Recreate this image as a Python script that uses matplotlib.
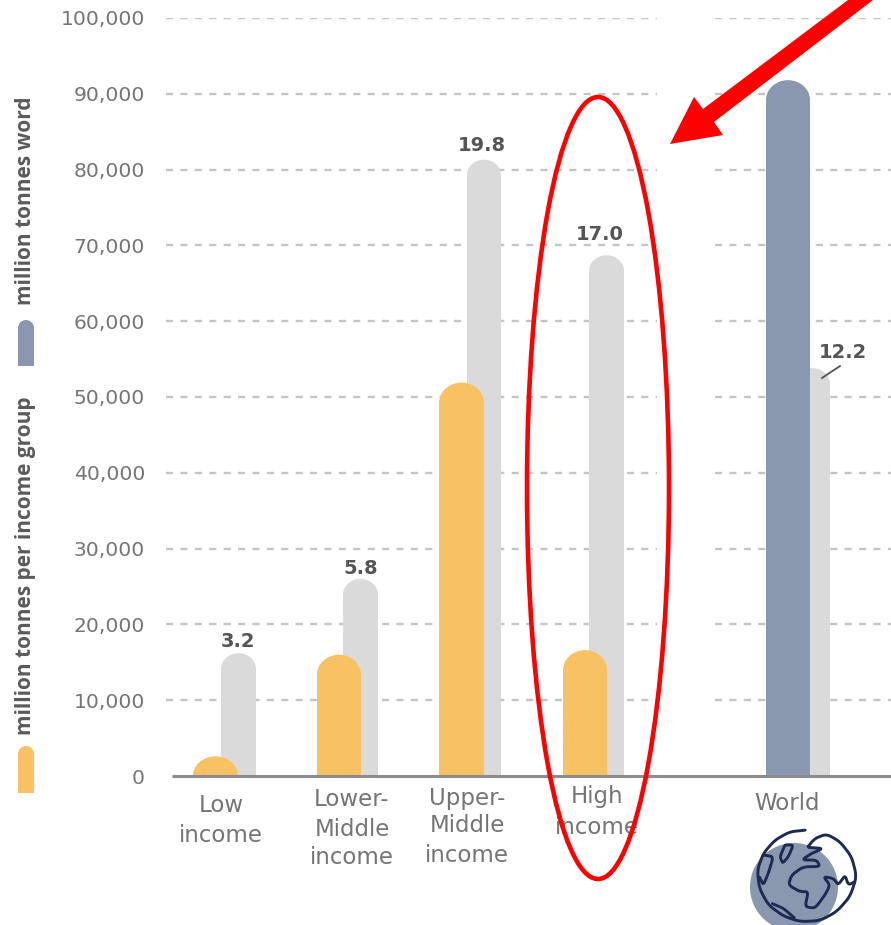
import matplotlib
matplotlib.use("Agg")
import matplotlib.pyplot as plt
import numpy as np
from matplotlib.path import Path
from matplotlib.patches import PathPatch, Ellipse, Polygon, Circle

# --- data ---
groups = ["Low\nincome", "Lower-\nMiddle\nincome", "Upper-\nMiddle\nincome", "High\nincome"]
group_million_tonnes = [2600, 16000, 51900, 16600]
per_capita_bars = [16200, 26000, 81300, 68700]
per_capita_labels = ["3.2", "5.8", "19.8", "17.0"]
world_label = "World"
world_million_tonnes = [91800]
world_bar = [53800]
world_value_label = "12.2"
y_ticks = [0, 10000, 20000, 30000, 40000, 50000, 60000, 70000, 80000, 90000, 100000]
legend_labels = ["million tonnes per income group", "million tonnes word"]

# --- style ---
ORANGE, GREY, BLUE = "#F8C264", "#DADADA", "#8A98AF"
TXT = "#757575"
W, H = 891, 925
plt.rcParams["font.family"] = ["DejaVu Sans"]
fig = plt.figure(figsize=(W / 100, H / 100), dpi=100, facecolor="white")
Y0, Y1 = 776, 18
ax = fig.add_axes([0, 1 - Y0 / H, 1, (Y0 - Y1) / H])
ax.set_xlim(0, W)
ax.set_ylim(0, 100000)
ax.axis("off")
px = 100000 / (Y0 - Y1)   # data units per pixel


def rbar(x0, x1, top, color, z):
    """Bar from 0 to top, with a round cap."""
    rx = (x1 - x0) / 2
    ry = min(rx * px * 0.9, top)
    k = 0.5523
    xm = (x0 + x1) / 2
    verts = [(x0, 0), (x0, top - ry),
             (x0, top - ry + k * ry), (xm - k * rx, top), (xm, top),
             (xm + k * rx, top), (x1, top - ry + k * ry), (x1, top - ry),
             (x1, 0), (x0, 0)]
    codes = [Path.MOVETO, Path.LINETO, Path.CURVE4, Path.CURVE4, Path.CURVE4,
             Path.CURVE4, Path.CURVE4, Path.CURVE4, Path.LINETO, Path.CLOSEPOLY]
    ax.add_patch(PathPatch(Path(verts, codes), fc=color, ec="none", zorder=z, clip_on=False))


# gridlines
for t in y_ticks[1:]:
    for a, b in [(166, 657), (715, 891)]:
        ax.plot([a, b], [t, t], color="#C4C4C4", lw=1.7, dashes=(3.0, 3.1), zorder=1)
for t in y_ticks:
    ax.annotate(f"{t:,}", (145, t), xytext=(0, -2), textcoords="offset pixels",
                ha="right", va="center", fontsize=14.6, color=TXT, zorder=5)

# bars
o_x = [(193, 238), (317, 361), (439, 484), (563, 607)]
g_x = [(221, 256), (343, 378), (467, 501), (589, 624)]
lab_x = [238, 361, 482, 600]
lab_off = [2, 1, 5, 11]
for (a, b), v in zip(g_x, per_capita_bars):
    rbar(a, b, v, GREY, 2)
for (a, b), v in zip(o_x, group_million_tonnes):
    rbar(a, b, v, ORANGE, 3)
rbar(795, 830, world_bar[0], GREY, 2)
rbar(766, 810, world_million_tonnes[0], BLUE, 3)

for x, off, v, s in zip(lab_x, lab_off, per_capita_bars, per_capita_labels):
    ax.annotate(s, (x, v), xytext=(0, off), textcoords="offset pixels", ha="center", va="bottom",
                fontsize=14, fontweight="bold", color="#555555", zorder=6)

ax.plot([172, 891], [0, 0], color="#8C8C8C", lw=2.2, zorder=4, solid_capstyle="butt", clip_on=False)

# overlay in pixel coordinates
ov = fig.add_axes([0, 0, 1, 1], facecolor="none")
ov.set_xlim(0, W)
ov.set_ylim(H, 0)
ov.axis("off")

# category labels
lab_pos = [(221, [805, 836]), (352, [800, 829, 858]), (467, [798, 826, 855]), (597, [796, 827])]
for (x, ys), g in zip(lab_pos, groups):
    for y, line in zip(ys, g.split("\n")):
        ov.text(x, y, line, ha="center", va="center", fontsize=16.5, color=TXT, zorder=3)
ov.text(787, 804, world_label, ha="center", va="center", fontsize=16.5, color=TXT)

# world value label with leader
ov.text(843, 352, world_value_label, ha="center", va="center", fontsize=14,
        fontweight="bold", color="#555555")
ov.plot([822, 840], [378, 366], color="#555555", lw=1.3)

# legend
def legend_swatch(x0, x1, y0, y1, color):
    rx = (x1 - x0) / 2
    ov.add_patch(Polygon([(x0, y1), (x1, y1), (x1, y0 + rx), (x0, y0 + rx)], fc=color, ec="none"))
    ov.add_patch(Ellipse(((x0 + x1) / 2, y0 + rx), x1 - x0, 2 * rx, fc=color, ec="none"))

legend_swatch(18, 34, 746, 793, ORANGE)
legend_swatch(18, 34, 320, 366, BLUE)
ov.text(26, 735, legend_labels[0], rotation=90, ha="center", va="bottom", fontsize=15,
        fontweight="bold", color="#5A5A5A", family=["Open Sans"])
ov.text(26, 305, legend_labels[1], rotation=90, ha="center", va="bottom", fontsize=15,
        fontweight="bold", color="#5A5A5A", family=["Open Sans"])

# globe icon
ov.add_patch(Circle((794, 887), 44, fc=BLUE, ec="none", zorder=2))
NAVY = "#1F2A52"
def zoom_line(pts, lw=2.1):
    pts = np.array(pts, float)
    xs = 700 + pts[:, 0] / 3
    ys = 760 + pts[:, 1] / 3
    t = np.linspace(0, 1, len(pts))
    tt = np.linspace(0, 1, 12 * len(pts))
    xx, yy = np.interp(tt, t, xs), np.interp(tt, t, ys)
    kernel = np.ones(9) / 9
    xx2 = np.convolve(np.r_[[xx[0]] * 4, xx, [xx[-1]] * 4], kernel, "valid")
    yy2 = np.convolve(np.r_[[yy[0]] * 4, yy, [yy[-1]] * 4], kernel, "valid")
    ov.plot(xx2, yy2, color=NAVY, lw=lw, zorder=3, solid_capstyle="round")

zoom_line([(320, 210), (270, 215), (225, 240), (190, 280), (172, 330), (178, 385), (205, 435),
           (250, 468), (300, 485), (360, 482), (410, 455), (450, 410), (470, 350), (455, 290),
           (420, 245), (380, 222), (345, 235), (322, 262)])
zoom_line([(190, 285), (220, 290), (205, 340), (190, 375), (178, 350)])
zoom_line([(255, 255), (280, 255), (265, 290), (248, 310), (240, 290), (255, 255)])
zoom_line([(322, 262), (370, 265), (335, 280), (305, 300), (350, 300), (360, 320), (310, 320),
           (275, 345), (265, 375), (300, 395), (325, 395), (315, 440), (345, 445), (375, 405),
           (390, 375), (370, 350), (400, 355), (415, 375), (435, 345), (445, 375), (465, 365)])
zoom_line([(215, 430), (250, 445), (285, 475)])

# red highlight
ov.add_patch(Ellipse((598, 488), 142, 782, fc="none", ec="#FF0000", lw=3.3, zorder=8))
ov.add_patch(Polygon([(848, 0), (873, 0), (714, 122), (723, 135), (670, 144), (694, 97), (703, 109)],
                     fc="#FF0000", ec="none", zorder=8))

fig.savefig("out.png", dpi=100)
